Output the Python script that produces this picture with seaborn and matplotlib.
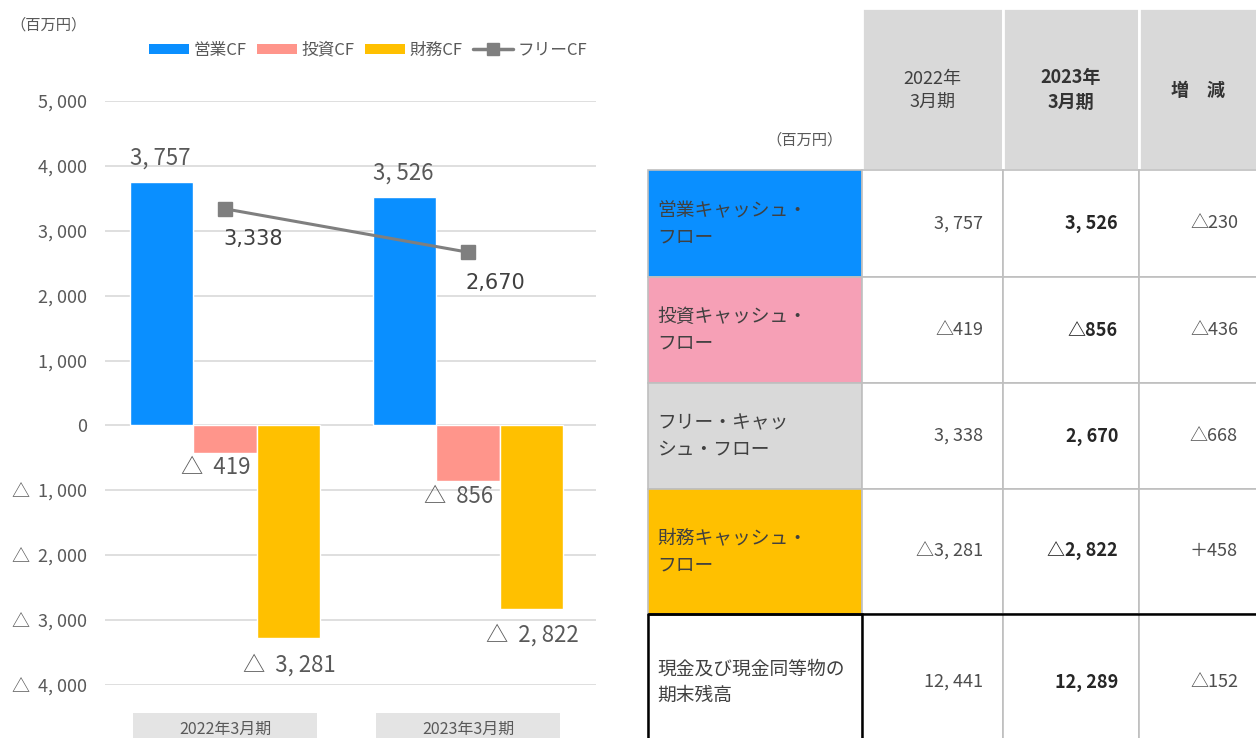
import matplotlib
matplotlib.use("Agg")
import matplotlib.pyplot as plt
from matplotlib.patches import Patch, Rectangle
from matplotlib.lines import Line2D
import matplotlib.transforms as mtransforms
import seaborn as sns
import pandas as pd

# --- chart data (百万円) ---
periods = ["2022年3月期", "2023年3月期"]
series_names = ["営業CF", "投資CF", "財務CF"]
operating = [3757, 3526]
investing = [-419, -856]
financing = [-3281, -2822]
free_cf = [3338, 2670]
free_name = "フリーCF"

# --- table data ---
table_header = ["2022年\n3月期", "2023年\n3月期", "増　減"]
row_labels = ["営業キャッシュ・\nフロー", "投資キャッシュ・\nフロー",
              "フリー・キャッ\nシュ・フロー", "財務キャッシュ・\nフロー",
              "現金及び現金同等物の\n期末残高"]
fy2022 = [3757, -419, 3338, -3281, 12441]
fy2023 = [3526, -856, 2670, -2822, 12289]
change = [-230, -436, -668, 458, -152]

bar_colors = ["#0A8FFF", "#FF958B", "#FFC000"]
line_color = "#7F7F7F"
row_colors = ["#0A8FFF", "#F6A0B6", "#D9D9D9", "#FFC000", "white"]
txt = "#595959"

sns.set_style("white")
plt.rcParams["font.family"] = ["Noto Sans CJK JP", "DejaVu Sans"]


def jp_num(v, sep=" "):
    s = f"{abs(v):,}".replace(",", "," + sep)
    return ("△" + sep + s) if v < 0 else s


df = pd.DataFrame({
    "period": periods * 3,
    "series": [n for n in series_names for _ in periods],
    "value": operating + investing + financing,
})

fig = plt.figure(figsize=(12.56, 7.38), dpi=100)
ax = fig.add_axes([105 / 1256, 53 / 738, 491 / 1256, 584 / 738])

sns.barplot(data=df, x="period", y="value", hue="series", palette=bar_colors,
            width=0.78, saturation=1, errorbar=None, legend=False, ax=ax)
ax.plot(range(len(periods)), free_cf, color=line_color, lw=2.2, marker="s",
        markersize=10, zorder=5)

ax.set_ylim(-4000, 5000)
ax.set_xlim(-0.494, 1.527)
ax.set_yticks(range(-4000, 5001, 1000))
ax.set_yticklabels([jp_num(v, sep="  ").replace(",  ", ", ") if v else "0"
                    for v in range(-4000, 5001, 1000)])
ax.yaxis.grid(True, color="#D9D9D9", lw=1.2)
ax.set_axisbelow(True)
sns.despine(ax=ax, left=True, bottom=True)
ax.tick_params(axis="y", length=0, pad=13, labelsize=13, labelcolor=txt)
ax.tick_params(axis="x", length=0, pad=26, labelsize=11.5, labelcolor=txt)
ax.set_xlabel("")
ax.set_ylabel("")

# category boxes
trans = mtransforms.blended_transform_factory(ax.transData, ax.transAxes)
for i in range(len(periods)):
    ax.add_patch(Rectangle((i - 0.38, -0.1), 0.76, 0.052, transform=trans,
                           facecolor="#E4E4E4", edgecolor="none", clip_on=False,
                           zorder=0))

# bar labels
offsets = [(-1, 17), (-7, -11), (1, -19)]
for cont, (dx, dy) in zip(ax.containers, offsets):
    for bar in cont:
        h = bar.get_height()
        x = bar.get_x() + bar.get_width() / 2
        label = jp_num(int(round(h)), sep="  ").replace(",  ", ", ")
        ax.annotate(label, (x, h), xytext=(dx, dy),
                    textcoords="offset points", ha="center", va="center",
                    fontsize=16, color=txt)

for i, v in enumerate(free_cf):
    ax.annotate(f"{v:,}", (i, v), xytext=(20, -22), textcoords="offset points",
                ha="center", va="center", fontsize=15, color="#404040",
                family=["DejaVu Sans"])

fig.text(10 / 1256, 1 - 25 / 738, "（百万円）", fontsize=11, color=txt,
         va="center")

handles = [Patch(facecolor=c, edgecolor="none") for c in bar_colors]
handles.append(Line2D([], [], color=line_color, lw=2.5, marker="s", markersize=8))
fig.legend(handles, series_names + [free_name], loc="center",
           bbox_to_anchor=(368 / 1256, 1 - 50 / 738), ncol=4, frameon=False,
           fontsize=12, labelcolor=txt, handlelength=2.4, handleheight=0.55,
           handletextpad=0.3, columnspacing=0.6)

# --- table ---
tax = fig.add_axes([640 / 1256, 0, 616 / 1256, 1])
tax.set_xlim(640, 1256)
tax.set_ylim(738, 0)
tax.axis("off")

col_edges = [648, 862, 1003, 1139, 1300]
row_edges = [8, 170, 277, 383, 489, 614, 760]
value_right = [983, 1118, 1238]

for j in range(1, 4):
    tax.add_patch(Rectangle((col_edges[j], row_edges[0]),
                            col_edges[j + 1] - col_edges[j],
                            row_edges[1] - row_edges[0],
                            facecolor="#D9D9D9", edgecolor="white", lw=2))
    tax.text((col_edges[j] + col_edges[j + 1]) / 2 if j < 3 else 1198, 90,
             table_header[j - 1], ha="center", va="center", fontsize=13,
             color="#333333" if j > 1 else "#404040",
             fontweight="bold" if j > 1 else "normal", linespacing=1.35)
tax.text(805, 140, "（百万円）", ha="center", va="center", fontsize=11,
         color=txt)

for i, label in enumerate(row_labels):
    y0, y1 = row_edges[i + 1], row_edges[i + 2]
    yc = (y0 + y1) / 2 if i < 4 else 682
    for j in range(4):
        tax.add_patch(Rectangle((col_edges[j], y0), col_edges[j + 1] - col_edges[j],
                                y1 - y0, facecolor=row_colors[i] if j == 0 else "white",
                                edgecolor="#BFBFBF", lw=1.2))
    tax.text(657, yc, label, ha="left", va="center", fontsize=13.5,
             color="#404040", linespacing=1.35)
    vals = [jp_num(fy2022[i]).replace("△ ", "△"),
            jp_num(fy2023[i]).replace("△ ", "△"),
            ("＋" if change[i] > 0 else "△") + f"{abs(change[i]):,}"]
    for j, v in enumerate(vals):
        tax.text(value_right[j], yc, v, ha="right", va="center", fontsize=13,
                 color="#262626" if j == 1 else "#4D4D4D",
                 fontweight="bold" if j == 1 else "normal")

# black frame on last row
tax.add_patch(Rectangle((col_edges[0], row_edges[5]), col_edges[1] - col_edges[0],
                        row_edges[6] - row_edges[5], facecolor="none",
                        edgecolor="black", lw=1.8))
tax.plot([col_edges[0], 1256], [row_edges[5], row_edges[5]], color="black", lw=1.8)

fig.savefig("out.png", dpi=100)
